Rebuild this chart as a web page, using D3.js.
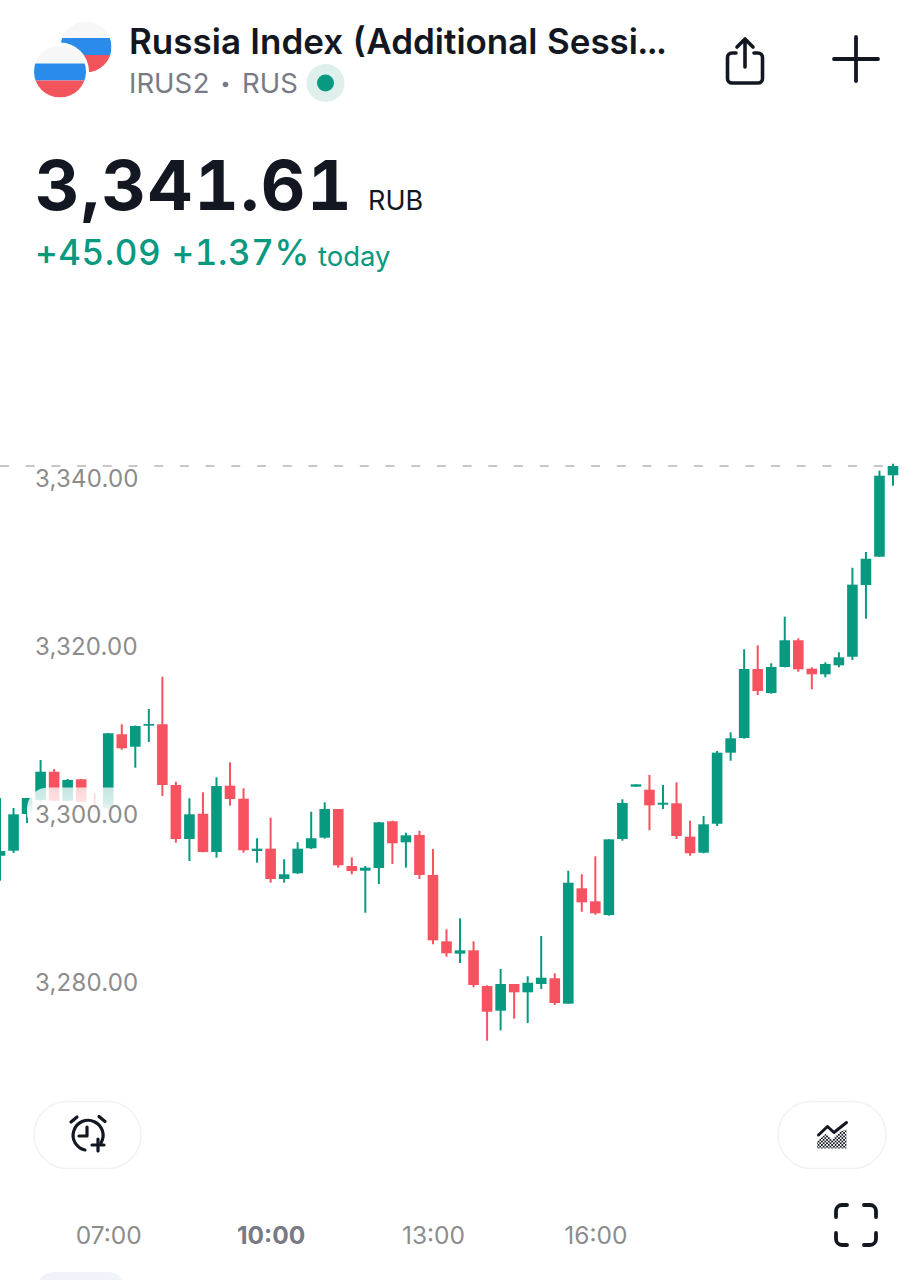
<!DOCTYPE html>
<html>
<head>
<meta charset="utf-8">
<script src="https://cdn.jsdelivr.net/npm/d3@7"></script>
<style>
    body { margin: 0; background: #fff; }
    svg { display: block; font-family: Inter, "Noto Sans", sans-serif; }
    .tabular { font-variant-numeric: tabular-nums; }
</style>
</head>
<body>
<div id="chart"></div>
<script>
// 15 minute candles, the first one opens at 05:00
const firstCandle = new Date(2024, 0, 15, 5, 0);
const lastCandle = new Date(2024, 0, 15, 21, 30);
const opens = [
    3295.21, 3295.81, 3300.18, 3301.85, 3305.21, 3301.76, 3304.31, 3300.65, 3300.86, 3309.67, 3308.19,
    3310.69, 3310.86, 3303.63, 3297.20, 3300.21, 3295.65, 3303.55, 3302.00, 3295.77, 3296.05, 3292.44,
    3293.12, 3296.10, 3297.36, 3300.77, 3293.99, 3293.43, 3293.75, 3299.31, 3296.81, 3297.68, 3292.92,
    3285.02, 3283.55, 3283.95, 3279.70, 3276.76, 3279.94, 3278.95, 3279.94, 3280.62, 3277.60, 3291.33,
    3289.78, 3288.15, 3297.20, 3303.43, 3303.07, 3301.29, 3301.45, 3297.48, 3295.57, 3299.02, 3307.48,
    3309.23, 3317.44, 3314.58, 3317.68, 3320.86, 3317.48, 3316.81, 3317.88, 3318.90, 3327.44, 3330.81, 3340.50
];
const highs = [
    3302.08, 3300.89, 3302.08, 3306.61, 3305.53, 3304.35, 3304.35, 3302.68, 3309.82, 3310.86, 3310.71,
    3312.68, 3316.52, 3304.02, 3302.05, 3302.76, 3304.55, 3306.33, 3303.24, 3297.29, 3299.74, 3294.79,
    3296.81, 3300.45, 3301.57, 3300.77, 3295.02, 3293.99, 3299.23, 3299.38, 3297.95, 3298.19, 3296.01,
    3286.45, 3287.76, 3285.02, 3279.78, 3281.73, 3279.94, 3280.86, 3285.65, 3281.21, 3293.43, 3293.00,
    3295.14, 3297.16, 3301.93, 3303.71, 3304.82, 3303.63, 3303.95, 3299.38, 3299.94, 3307.68, 3309.90,
    3319.79, 3320.26, 3318.12, 3323.67, 3321.10, 3317.64, 3318.24, 3319.43, 3329.50, 3331.37, 3341.05, 3341.88
];
const lows = [
    3292.24, 3295.54, 3299.11, 3301.73, 3301.67, 3301.67, 3301.61, 3299.70, 3300.77, 3307.83, 3305.69,
    3308.75, 3302.32, 3296.76, 3294.58, 3295.62, 3294.98, 3301.17, 3295.57, 3294.38, 3292.00, 3292.00,
    3293.04, 3296.01, 3297.24, 3293.79, 3293.00, 3288.43, 3291.84, 3294.23, 3293.79, 3292.44, 3284.67,
    3283.19, 3282.44, 3279.55, 3273.19, 3274.42, 3275.81, 3275.30, 3279.35, 3277.44, 3277.60, 3288.54,
    3288.19, 3288.07, 3297.00, 3303.43, 3298.24, 3300.77, 3297.20, 3295.21, 3295.50, 3298.75, 3306.52,
    3309.14, 3314.35, 3314.50, 3317.64, 3317.12, 3315.02, 3316.45, 3317.64, 3318.51, 3323.43, 3330.81, 3339.26
];
const closes = [
    3295.77, 3300.14, 3302.08, 3305.21, 3301.76, 3304.23, 3301.64, 3299.94, 3309.79, 3308.00, 3310.65,
    3310.89, 3303.63, 3297.20, 3300.14, 3295.65, 3303.51, 3301.96, 3295.86, 3296.05, 3292.44, 3293.00,
    3296.05, 3297.29, 3300.77, 3294.07, 3293.39, 3293.79, 3299.19, 3296.69, 3297.64, 3292.92, 3285.14,
    3283.60, 3283.95, 3279.82, 3276.64, 3279.94, 3278.95, 3280.09, 3280.69, 3277.68, 3292.00, 3289.66,
    3288.36, 3297.16, 3301.49, 3303.71, 3301.21, 3301.52, 3297.56, 3295.50, 3298.95, 3307.48, 3309.19,
    3317.44, 3314.82, 3317.68, 3320.86, 3317.40, 3316.81, 3318.04, 3318.83, 3327.48, 3330.57, 3340.45, 3341.61
];
const priceTicks = [3340, 3320, 3300, 3280];
const timeTicks = [7, 10, 13, 16];
const lastPrice = 3341.61;

const upColor = "#089981";
const downColor = "#f7525f";
const ink = "#131722";

const width = 920;
const height = 1280;
const svg = d3.select("#chart")
    .append("svg")
    .attr("width", width)
    .attr("height", height);

//Scales
const x = d3.scaleTime()
    .domain([firstCandle, lastCandle])
    .range([0, 893]);
const y = d3.scaleLinear()
    .domain([3340, 3280])
    .range([479.5, 983.5]);

//Last price line
svg.append("line")
    .attr("x1", 0)
    .attr("x2", 886)
    .attr("y1", y(lastPrice))
    .attr("y2", y(lastPrice))
    .attr("stroke", "#8f8f8f")
    .attr("stroke-width", 1.2)
    .attr("stroke-dasharray", "9 16.7");

//Candles
const candles = opens.map((open, i) => ({
    time: d3.timeMinute.offset(firstCandle, 15 * i),
    open, high: highs[i], low: lows[i], close: closes[i]
}));
const bodyWidth = 10.6;
const candle = svg.append("g")
    .selectAll("g")
    .data(candles)
    .enter().append("g")
    .attr("fill", d => d.close >= d.open ? upColor : downColor);
candle.append("rect")
    .attr("x", d => x(d.time) - 1)
    .attr("width", 2)
    .attr("y", d => y(d.high))
    .attr("height", d => y(d.low) - y(d.high));
candle.append("rect")
    .attr("x", d => x(d.time) - bodyWidth / 2)
    .attr("width", bodyWidth)
    .attr("y", d => y(Math.max(d.open, d.close)))
    .attr("height", d => y(Math.min(d.open, d.close)) - y(Math.max(d.open, d.close)));

//The 3,300 label sits on a white plate that washes out the candles behind it
const plate = svg.append("defs").append("linearGradient")
    .attr("id", "plate")
    .attr("x1", 0).attr("x2", 0).attr("y1", 0).attr("y2", 1);
plate.append("stop").attr("offset", "0%").attr("stop-color", "#fff").attr("stop-opacity", 0.76);
plate.append("stop").attr("offset", "35%").attr("stop-color", "#fff").attr("stop-opacity", 0.84);
plate.append("stop").attr("offset", "60%").attr("stop-color", "#fff").attr("stop-opacity", 1);
svg.append("rect")
    .attr("x", 27)
    .attr("y", y(3300) - 28)
    .attr("width", 118)
    .attr("height", 46)
    .attr("rx", 21)
    .attr("fill", "url(#plate)");

//Axes
const yAxis = svg.append("g")
    .call(d3.axisRight(y).tickValues(priceTicks).tickSize(0).tickPadding(35).tickFormat(d3.format(",.2f")));
yAxis.select(".domain").remove();
yAxis.selectAll("text")
    .attr("y", -0.5)
    .attr("font-family", "Inter, sans-serif")
    .attr("font-size", 24)
    .attr("letter-spacing", 0.2)
    .attr("fill", "#8c8c8c");

const xAxis = svg.append("g")
    .attr("transform", "translate(0,1227)")
    .call(d3.axisBottom(x)
        .tickValues(timeTicks.map(h => d3.timeHour.offset(d3.timeDay.floor(firstCandle), h)))
        .tickSize(0).tickPadding(0).tickFormat(d3.timeFormat("%H:%M")));
xAxis.select(".domain").remove();
xAxis.selectAll("text")
    .attr("font-family", "Inter, sans-serif")
    .attr("font-size", 24.5)
    .attr("fill", "#8c8c8c");
xAxis.selectAll(".tick").filter(d => d.getHours() === 10).select("text")
    .attr("font-weight", 700)
    .attr("fill", "#787b86");

//Header logo
const flagWhite = "#f7f7f7";
const flagBlue = "#2a8bea";
const flagRed = "#f2545b";
function flag(id, cx, cy, r, bandA, bandB) {
    svg.select("defs").append("clipPath").attr("id", id)
        .append("circle").attr("cx", cx).attr("cy", cy).attr("r", r);
    const g = svg.append("g").attr("clip-path", `url(#${id})`);
    g.append("rect").attr("x", cx - r).attr("y", cy - r).attr("width", 2 * r).attr("height", bandA - cy + r).attr("fill", flagWhite);
    g.append("rect").attr("x", cx - r).attr("y", bandA).attr("width", 2 * r).attr("height", bandB - bandA).attr("fill", flagBlue);
    g.append("rect").attr("x", cx - r).attr("y", bandB).attr("width", 2 * r).attr("height", cy + r - bandB).attr("fill", flagRed);
}
flag("flagBack", 86, 47, 25.5, 38, 55);
svg.append("circle").attr("cx", 60).attr("cy", 71.5).attr("r", 29).attr("fill", "#fff");
flag("flagFront", 60, 71.5, 26, 63.5, 80.5);

//Header text
function label(text, px, py, size, weight, fill, spacing = 0) {
    return svg.append("text")
        .attr("class", "tabular")
        .attr("x", px)
        .attr("y", py)
        .attr("font-size", size)
        .attr("font-weight", weight)
        .attr("letter-spacing", spacing)
        .attr("fill", fill)
        .text(text);
}
label("Russia Index (Additional Sessi...", 129, 54, 35, 600, ink);
label("IRUS2", 129, 93, 27.5, 400, "#787b86");
svg.append("circle").attr("cx", 225.5).attr("cy", 84.5).attr("r", 2.8).attr("fill", "#787b86");
label("RUS", 242, 93, 27.5, 400, "#787b86");
svg.append("circle").attr("cx", 325.5).attr("cy", 83).attr("r", 19).attr("fill", "#dff0ec");
svg.append("circle").attr("cx", 325.5).attr("cy", 83).attr("r", 8.5).attr("fill", upColor);

label("3,341.61", 35, 210, 69, 700, ink, 1.7);
label("RUB", 368, 210, 27, 400, ink);
label("+45.09 +1.37%", 35, 265, 35, 500, upColor, 0.6);
label("today", 318, 266, 27.5, 400, upColor);

//Icons
const iconStyle = g => g.attr("fill", "none").attr("stroke", ink).attr("stroke-linecap", "round").attr("stroke-linejoin", "round");
const share = svg.append("g").call(iconStyle).attr("stroke-width", 3.6);
share.append("path").attr("d", "M736 53h-4a4.5 4.5 0 0 0 -4.5 4.5v21a4.5 4.5 0 0 0 4.5 4.5h26a4.5 4.5 0 0 0 4.5 -4.5v-21a4.5 4.5 0 0 0 -4.5 -4.5h-4");
share.append("path").attr("d", "M745 67V39M737 47l8 -8 8 8");
svg.append("path").call(iconStyle).attr("stroke-width", 3.8).attr("d", "M834 59h44M856 37v44");

//Round buttons
[[34, 107], [778, 108]].forEach(([bx, bw]) => {
    svg.append("rect")
        .attr("x", bx).attr("y", 1101.5)
        .attr("width", bw).attr("height", 67)
        .attr("rx", 33.5)
        .attr("fill", "#fff")
        .attr("stroke", "#f2f2f3")
        .attr("stroke-width", 1.5);
});
const alarm = svg.append("g").call(iconStyle).attr("stroke-width", 3.2);
alarm.append("path").attr("d", "M85 1150a15 15 0 1 1 16 -7");
alarm.append("path").attr("d", "M87 1127v9h-8");
alarm.append("path").attr("d", "M71 1122l6 -5M99 1116.5l6 5");
alarm.append("path").attr("d", "M98 1139v12M92 1145h12");

const indicator = svg.append("defs").append("pattern")
    .attr("id", "dots").attr("width", 3.4).attr("height", 3.4)
    .attr("patternUnits", "userSpaceOnUse");
indicator.append("rect").attr("width", 1.7).attr("height", 1.7).attr("fill", ink);
indicator.append("rect").attr("x", 1.7).attr("y", 1.7).attr("width", 1.7).attr("height", 1.7).attr("fill", ink);
svg.append("path").attr("d", "M817 1148.5v-7l9 -8 6 6 8 -8 6.5 -2v19z").attr("fill", "url(#dots)");
svg.append("path").call(iconStyle).attr("stroke-width", 3)
    .attr("d", "M818.5 1135l9 -8.5 6.5 6 12.5 -10");

const corners = svg.append("g").call(iconStyle).attr("stroke-width", 3.8);
corners.append("path").attr("d", "M847 1205h-5a6 6 0 0 0 -6 6v6");
corners.append("path").attr("d", "M864 1205h6a6 6 0 0 1 6 6v6");
corners.append("path").attr("d", "M836 1233v6a6 6 0 0 0 6 6h5");
corners.append("path").attr("d", "M876 1233v6a6 6 0 0 1 -6 6h-6");

//Top of the next panel's pill, cut off by the bottom edge
svg.append("rect")
    .attr("x", 36).attr("y", 1272)
    .attr("width", 90).attr("height", 40)
    .attr("rx", 18)
    .attr("fill", "#f0f3fa");
</script>
</body>
</html>
